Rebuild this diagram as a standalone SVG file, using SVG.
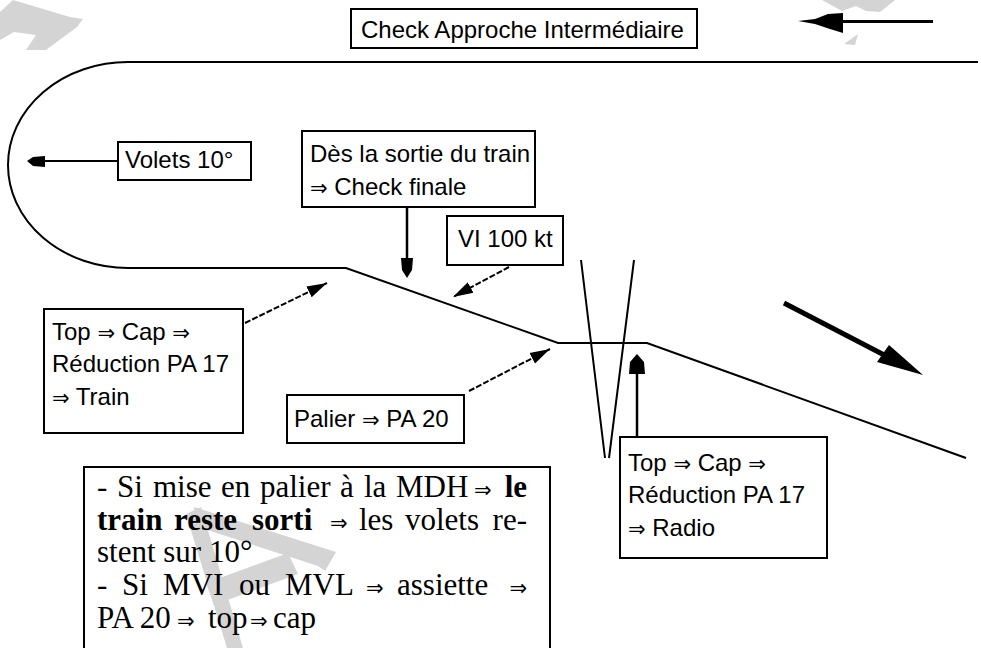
<svg xmlns="http://www.w3.org/2000/svg" width="981" height="648" viewBox="0 0 981 648">
<style>
.bg{fill:#fff}
.wm{fill:#d4d4d4}
.box{fill:#fff;stroke:#000;stroke-width:2}
.lbl{font-family:"Liberation Sans","DejaVu Sans",Arial,sans-serif;font-size:24px;fill:#000}
.ser{font-family:"Liberation Serif","DejaVu Serif","Times New Roman",serif;font-size:31px;fill:#000}
.b{font-weight:bold}
.ar{font-family:"DejaVu Sans",sans-serif;font-size:21px}
.trk{fill:none;stroke:#000;stroke-width:2}
.con{fill:none;stroke:#000;stroke-width:2.5}
.dash{fill:none;stroke:#000;stroke-width:2;stroke-dasharray:6 2}
</style>
<defs>
<marker id="ah" markerUnits="userSpaceOnUse" markerWidth="22" markerHeight="14" refX="20" refY="7" orient="auto">
<path d="M0,1 L20,7 L0,13 Z" fill="#000"/>
</marker>
</defs>
<rect class="bg" x="0" y="0" width="981" height="648"/>
<g id="watermark">
<polygon class="wm" points="13,0 70,17 83,19 77,27 46,50 26,50 36,35 14,32 0,40 0,12"/>
<polygon class="wm" points="822,0 895,0 880,12 866,11 856,6 842,11"/>
<polygon class="wm" points="844,44 858,34 855,45"/>
<polygon class="wm" points="186,514 201,507 243,648 227,648"/>
<polygon class="wm" points="194,507 336,552 325,571 318,566 198,527"/>
<polygon class="wm" points="206,583 288,553 298,574 214,605"/>
</g>
<g id="track">
<path class="trk" d="M978,62 L128,62 A120,103 0 0 0 128,268 L346,268 L558,343 L647,343 L966,458"/>
<path class="trk" d="M581,260 L605,458 M634,260 L609,458"/>
</g>
<g id="connectors">
<path d="M933,21.5 L815,21.5" stroke="#000" stroke-width="3" fill="none"/>
<polygon points="798,21 815,19 828,14 843,13 843,33 830,29 815,24" fill="#000"/>
<path d="M118,161 L40,161" stroke="#000" stroke-width="2" fill="none"/>
<polygon points="27,161 33,157 45,156 45,167 33,166" fill="#000"/>
<path class="con" d="M407,207 L407,262"/>
<polygon points="407,278 402,270 401,258 413,258 412,270" fill="#000"/>
<path class="con" d="M637,437 L637,370"/>
<polygon points="637,354 644,362 645,374 629,374 630,362" fill="#000"/>
<path class="dash" d="M509,267 L453,297" marker-end="url(#ah)"/>
<path class="dash" d="M245,323 L327,283" marker-end="url(#ah)"/>
<path class="dash" d="M469,391 L550,349" marker-end="url(#ah)"/>
<path d="M784,303 L890,358" stroke="#000" stroke-width="5" fill="none"/>
<polygon points="923,375 877,362 889,345" fill="#000"/>
</g>
<g id="check-approche">
<rect class="box" x="351" y="9" width="346" height="39"/>
<text class="lbl" x="361" y="38">Check Approche Intermédiaire</text>
</g>
<g id="volets">
<rect class="box" x="118" y="142" width="133" height="38"/>
<text class="lbl" x="125" y="168">Volets 10°</text>
</g>
<g id="des-la-sortie">
<rect class="box" x="302" y="131" width="233" height="76"/>
<text class="lbl" x="310" y="162">Dès la sortie du train</text>
<text class="lbl" x="310" y="195"><tspan class="ar">⇒</tspan> Check finale</text>
</g>
<g id="vi-100">
<rect class="box" x="447" y="216" width="116" height="49"/>
<text class="lbl" x="458" y="247">VI 100 kt</text>
</g>
<g id="top-train">
<rect class="box" x="44" y="309" width="199" height="124"/>
<text class="lbl" x="52" y="340">Top <tspan class="ar">⇒</tspan> Cap <tspan class="ar">⇒</tspan></text>
<text class="lbl" x="52" y="372">Réduction PA 17</text>
<text class="lbl" x="52" y="405"><tspan class="ar">⇒</tspan> Train</text>
</g>
<g id="palier">
<rect class="box" x="287" y="395" width="177" height="48"/>
<text class="lbl" x="294" y="427">Palier <tspan class="ar">⇒</tspan> PA 20</text>
</g>
<g id="top-radio">
<rect class="box" x="620" y="437" width="207" height="121"/>
<text class="lbl" x="628" y="471">Top <tspan class="ar">⇒</tspan> Cap <tspan class="ar">⇒</tspan></text>
<text class="lbl" x="628" y="503">Réduction PA 17</text>
<text class="lbl" x="628" y="536"><tspan class="ar">⇒</tspan> Radio</text>
</g>
<g id="note">
<rect x="84" y="467" width="466" height="200" fill="none" stroke="#000" stroke-width="2"/>
<text class="ser" y="497"><tspan x="97">-</tspan><tspan x="117">Si</tspan><tspan x="153">mise</tspan><tspan x="221">en</tspan><tspan x="260">palier</tspan><tspan x="340">à</tspan><tspan x="364">la</tspan><tspan x="396">MDH</tspan><tspan x="474" class="ar">⇒</tspan></text>
<text class="ser b" x="527" y="497" text-anchor="end">le</text>
<text class="ser" y="530"><tspan x="97" class="b">train</tspan><tspan x="174" class="b">reste</tspan><tspan x="252" class="b">sorti</tspan><tspan x="330" class="ar">⇒</tspan><tspan x="359">les</tspan><tspan x="405">volets</tspan></text>
<text class="ser" x="527" y="530" text-anchor="end">re-</text>
<text class="ser" x="97" y="562">stent sur 10°</text>
<text class="ser" y="595"><tspan x="97">-</tspan><tspan x="122">Si</tspan><tspan x="163">MVI</tspan><tspan x="239">ou</tspan><tspan x="285">MVL</tspan><tspan x="366" class="ar">⇒</tspan><tspan x="397">assiette</tspan></text>
<text class="ser ar" x="527" y="595" text-anchor="end">⇒</text>
<text class="ser" y="628"><tspan x="97">PA 20</tspan><tspan x="177" class="ar">⇒</tspan><tspan x="208">top</tspan><tspan x="250" class="ar">⇒</tspan><tspan x="273">cap</tspan></text>
</g>
</svg>
